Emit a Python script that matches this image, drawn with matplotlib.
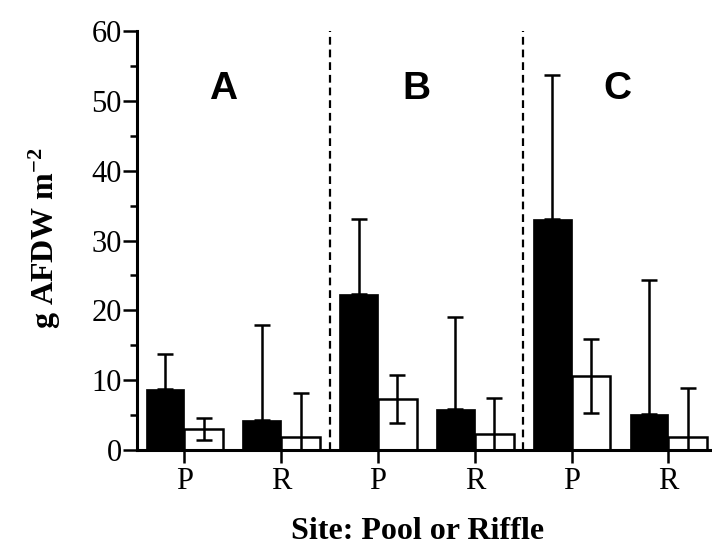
import matplotlib
matplotlib.use("Agg")
import matplotlib.pyplot as plt
import numpy as np

plt.rcParams['font.family'] = ['Liberation Serif', 'DejaVu Serif']
plt.rcParams['mathtext.fontset'] = 'custom'
plt.rcParams['mathtext.rm'] = 'Liberation Serif'
plt.rcParams['mathtext.default'] = 'regular'

# site groups and habitat
sites = ["A", "B", "C"]
tick_labels = ["P", "R", "P", "R", "P", "R"]

# black bars (upper error only)
black_vals = [8.8, 4.3, 22.4, 5.8, 33.1, 5.1]
black_err = [5.0, 13.6, 10.7, 13.3, 20.6, 19.3]

# white bars (symmetric error)
white_vals = [3.0, 1.9, 7.3, 2.3, 10.6, 1.9]
white_err = [1.6, 6.2, 3.4, 5.1, 5.3, 7.0]

fig = plt.figure(figsize=(7.12, 5.46), dpi=100)
ax = fig.add_axes([137/712, 96/546, 575/712, 419/546])

x = np.arange(len(tick_labels))
w = 0.4

ax.bar(x - w/2, black_vals, w, color="black", edgecolor="black", linewidth=0.5, zorder=2)
ax.errorbar(x - w/2, black_vals, yerr=[np.zeros(len(black_err)), black_err],
            fmt="none", ecolor="black", elinewidth=1.8, capsize=6, capthick=1.8, zorder=3)

ax.bar(x + w/2, white_vals, w, color="white", edgecolor="black", linewidth=1.8, zorder=2)
ax.errorbar(x + w/2, white_vals, yerr=white_err,
            fmt="none", ecolor="black", elinewidth=1.8, capsize=6, capthick=1.8, zorder=3)

# dividers between sites
for xd in [1.5, 3.5]:
    ax.plot([xd, xd], [0, 60], color="black", linewidth=1.6, linestyle=(0, (3.5, 2.2)), zorder=1)

letter_x = [0.40, 2.40, 4.47]
for s, lx in zip(sites, letter_x):
    ax.text(lx, 51.7, s, ha="center", va="center", fontsize=28, fontweight="bold",
            family="Liberation Sans")

ax.set_xlim(-0.489, 5.45)
ax.set_ylim(0, 60)
ax.set_yticks(np.arange(0, 61, 10))
ax.set_yticks(np.arange(5, 60, 10), minor=True)
ax.set_xticks(x)
ax.set_xticklabels(tick_labels)

for side in ["top", "right"]:
    ax.spines[side].set_visible(False)
for side in ["left", "bottom"]:
    ax.spines[side].set_linewidth(2.2)

ax.tick_params(axis="y", which="major", length=10, width=1.8, labelsize=22, pad=1)
ax.tick_params(axis="y", which="minor", length=5, width=1.8)
ax.tick_params(axis="x", which="major", length=9.5, width=1.8, labelsize=22, pad=3)

fig.text(45/712, 0.563, r"g AFDW m$^{-2}$", rotation=90, ha="center", va="center",
         fontsize=23, fontweight="bold")
fig.text(417.5/712, 7/546, "Site: Pool or Riffle", ha="center", va="baseline",
         fontsize=23, fontweight="bold")

fig.savefig("out.png", dpi=100)
